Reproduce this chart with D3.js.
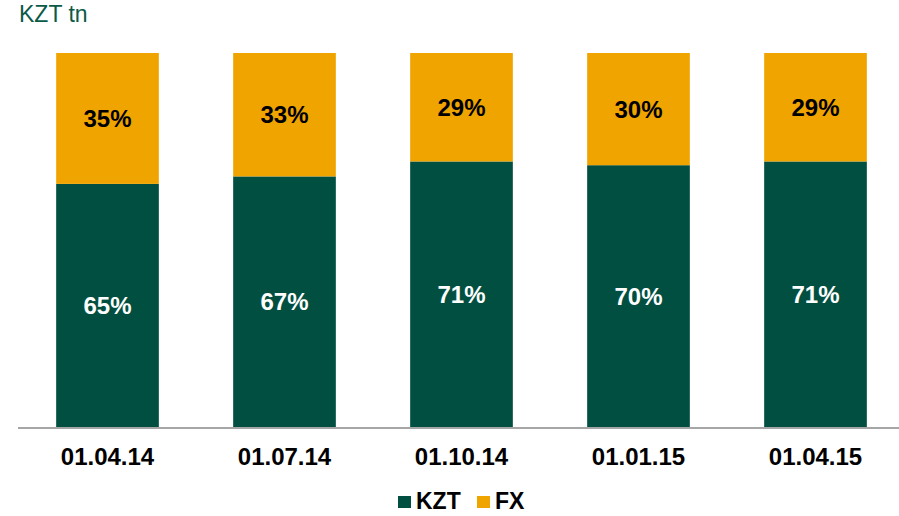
<!DOCTYPE html>
<html>
<head>
<meta charset="utf-8">
<script src="https://cdn.jsdelivr.net/npm/d3@7"></script>
<style>
  body { margin: 0; background: #fff; }
  svg { display: block; font-family: "Liberation Sans", Arial, sans-serif; }
</style>
</head>
<body>
<div id="chart"></div>
<script>
// dates and shares (percent) by currency
const datas = ['01.04.14', '01.07.14', '01.10.14', '01.01.15', '01.04.15'];
const kzt = [65, 67, 71, 70, 71];
const fx = [35, 33, 29, 30, 29];
const series = ['KZT', 'FX'];

const largura = 899;
const altura = 516;
const cores = { KZT: '#004f40', FX: '#f0a400' };

const svg = d3.select('#chart')
  .append('svg')
  .attr('width', largura)
  .attr('height', altura);

const escalaX = d3.scaleBand()
  .domain(datas)
  .range([19, 904])
  .paddingInner(0.42)
  .paddingOuter(0.21);

const escalaY = d3.scaleLinear()
  .domain([0, 100])
  .range([427, 53]);

const tabela = datas.map((d, i) => ({ data: d, KZT: kzt[i], FX: fx[i] }));
const pilha = d3.stack().keys(series)(tabela);

// barras
svg.append('g')
  .selectAll('g')
  .data(pilha)
  .join('g')
  .attr('fill', s => cores[s.key])
  .selectAll('rect')
  .data(s => s)
  .join('rect')
  .attr('x', d => escalaX(d.data.data))
  .attr('width', escalaX.bandwidth())
  .attr('y', d => escalaY(d[1]))
  .attr('height', d => escalaY(d[0]) - escalaY(d[1]));

// rótulos
svg.append('g')
  .selectAll('g')
  .data(pilha)
  .join('g')
  .attr('fill', s => s.key === 'KZT' ? '#ffffff' : '#000000')
  .selectAll('text')
  .data(s => s)
  .join('text')
  .attr('x', d => escalaX(d.data.data) + escalaX.bandwidth() / 2)
  .attr('y', d => (escalaY(d[0]) + escalaY(d[1])) / 2)
  .attr('dy', '0.36em')
  .attr('text-anchor', 'middle')
  .style('font-size', '24px')
  .style('font-weight', 'bold')
  .text(d => (d[1] - d[0]) + '%');

// eixo X
const eixo = svg.append('g')
  .attr('transform', 'translate(0, 427)')
  .call(d3.axisBottom(escalaX).tickSize(0).tickPadding(21));
eixo.select('.domain').remove();
eixo.append('line')
  .attr('x1', 18).attr('x2', 899)
  .attr('y1', 1).attr('y2', 1)
  .attr('stroke', '#a6a6a6')
  .attr('stroke-width', 2);
eixo.selectAll('.tick text')
  .attr('fill', '#000')
  .style('font-family', '"Liberation Sans", Arial, sans-serif')
  .style('font-size', '24px')
  .style('font-weight', 'bold');

// título
svg.append('text')
  .attr('x', 19)
  .attr('y', 22)
  .attr('fill', '#0b5a47')
  .style('font-size', '23px')
  .text('KZT tn');

// legenda
const legX = { KZT: 398, FX: 477 };
const leg = svg.append('g')
  .selectAll('g')
  .data(series)
  .join('g')
  .attr('transform', d => `translate(${legX[d]}, 496)`);
leg.append('rect')
  .attr('width', 13).attr('height', 12)
  .attr('fill', d => cores[d]);
leg.append('text')
  .attr('x', 18)
  .attr('y', 13)
  .style('font-size', '23px')
  .style('font-weight', 'bold')
  .attr('fill', '#000')
  .text(d => d);
</script>
</body>
</html>
